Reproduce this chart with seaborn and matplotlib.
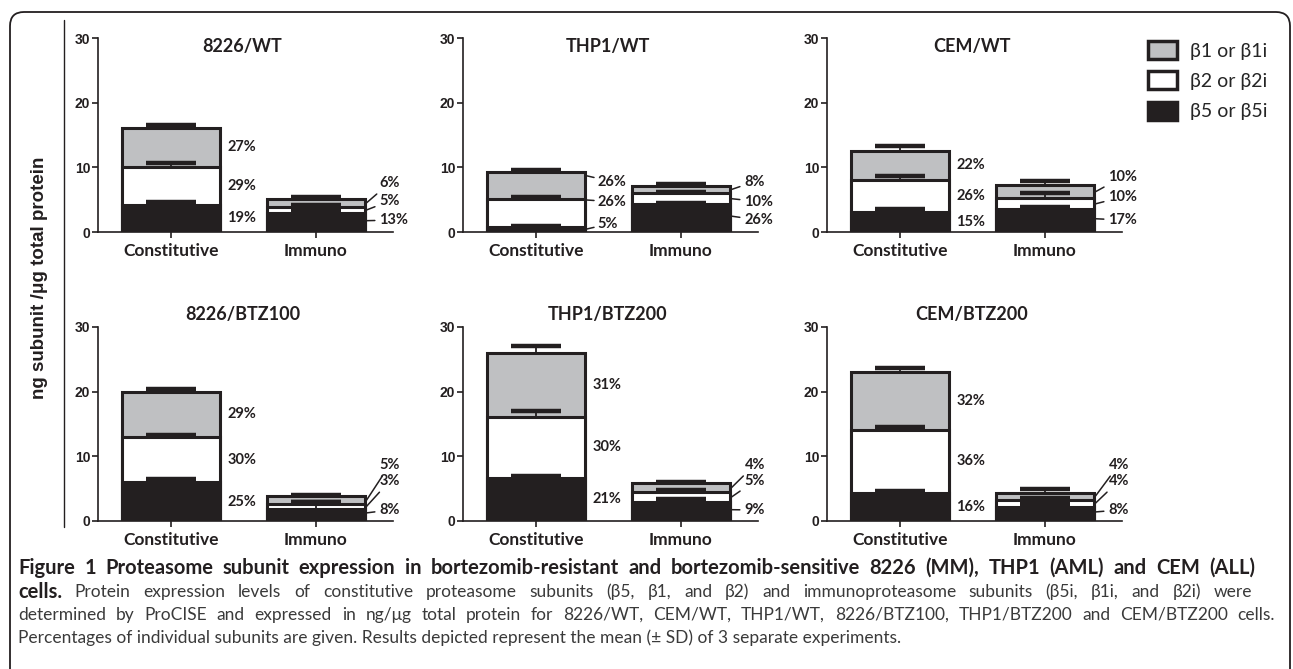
import matplotlib
matplotlib.use("Agg")
import numpy as np
import matplotlib.pyplot as plt
import matplotlib.transforms as mtransforms
from matplotlib.patches import Patch, FancyBboxPatch
from matplotlib.lines import Line2D
import seaborn as sns

# cell lines and proteasome types
panels = ["8226/WT", "THP1/WT", "CEM/WT", "8226/BTZ100", "THP1/BTZ200", "CEM/BTZ200"]
categories = ["Constitutive", "Immuno"]

# ng subunit / ug protein, [constitutive, immuno] per panel
b5 = [[4.2, 2.9], [0.8, 4.3], [3.1, 3.5], [6.0, 1.9], [6.7, 2.9], [4.4, 2.2]]
b2 = [[5.9, 1.0], [4.25, 1.7], [5.0, 1.7], [7.0, 0.7], [9.4, 1.6], [9.7, 1.1]]
b1 = [[6.0, 1.2], [4.25, 1.15], [4.4, 2.05], [7.0, 1.2], [9.9, 1.3], [8.9, 1.1]]

# SD (upper error bar only)
sd5 = [[0.4, 0.3], [0.1, 0.15], [0.45, 0.4], [0.5, 1.0], [0.3, 0.5], [0.3, 0.4]]
sd2 = [[0.5, 0.2], [0.4, 0.2], [0.5, 0.8], [0.3, 0.3], [0.9, 0.3], [0.5, 0.3]]
sd1 = [[0.4, 0.3], [0.3, 0.25], [0.8, 0.6], [0.4, 0.2], [1.0, 0.3], [0.6, 0.5]]

# percentage labels
pct5 = [["19%", "13%"], ["5%", "26%"], ["15%", "17%"], ["25%", "8%"], ["21%", "9%"], ["16%", "8%"]]
pct2 = [["29%", "5%"], ["26%", "10%"], ["26%", "10%"], ["30%", "3%"], ["30%", "5%"], ["36%", "4%"]]
pct1 = [["27%", "6%"], ["26%", "8%"], ["22%", "10%"], ["29%", "5%"], ["31%", "4%"], ["32%", "4%"]]

legend_labels = ["\u03b21 or \u03b21i", "\u03b22 or \u03b22i", "\u03b25 or \u03b25i"]

caption_title = "Figure 1 Proteasome subunit expression in bortezomib-resistant and bortezomib-sensitive 8226 (MM), THP1 (AML) and CEM (ALL)"
caption_lines = [
    "Protein expression levels of constitutive proteasome subunits (\u03b25, \u03b21, and \u03b22) and immunoproteasome subunits (\u03b25i, \u03b21i, and \u03b22i) were",
    "determined by ProCISE and expressed in ng/\u03bcg total protein for 8226/WT, CEM/WT, THP1/WT, 8226/BTZ100, THP1/BTZ200 and CEM/BTZ200 cells.",
    "Percentages of individual subunits are given. Results depicted represent the mean (\u00b1 SD) of 3 separate experiments.",
]

# label placement (layout only)
imm_text_y = [(1.85, 4.8, 7.6), (1.85, 4.7, 7.8), (1.85, 5.45, 8.55),
              (1.7, 6.2, 8.7), (1.7, 6.2, 8.7), (1.7, 6.2, 8.7)]
const_leader = {1: ((1.2, 4.7, 7.8), (0.45, 4.95, 8.7))}

GRAY = "#bfc0c2"
DARK = "#231f20"
BODY = "#3a3a3a"
BAR_W = 0.676

sns.set_theme(style="ticks")
plt.rcParams["font.family"] = ["Lato", "DejaVu Sans"]
plt.rcParams["axes.edgecolor"] = DARK
plt.rcParams["xtick.color"] = DARK
plt.rcParams["ytick.color"] = DARK

W, H = 1293, 669
fig = plt.figure(figsize=(W / 100, H / 100), dpi=100)

ax_left_px = [98, 463, 827]
rows_px = [(38, 232), (327, 521)]
ax_w_px = 295

for i, name in enumerate(panels):
    r, c = divmod(i, 3)
    top, bot = rows_px[r]
    ax = fig.add_axes([ax_left_px[c] / W, 1 - bot / H, ax_w_px / W, (bot - top) / H])

    c5 = np.array(b5[i])
    c2 = c5 + np.array(b2[i])
    c1 = c2 + np.array(b1[i])

    # stacked bars: draw totals first, then cover with lower segments
    for heights, col in [(c1, GRAY), (c2, "white"), (c5, DARK)]:
        sns.barplot(x=categories, y=heights, color=col, saturation=1,
                    edgecolor=DARK, linewidth=2.2, width=BAR_W,
                    errorbar=None, ax=ax)

    for tops, sd in [(c5, sd5[i]), (c2, sd2[i]), (c1, sd1[i])]:
        _, caps, _ = ax.errorbar([0, 1], tops, yerr=[np.zeros(2), sd], fmt="none",
                                 ecolor=DARK, elinewidth=1.3, capsize=18,
                                 capthick=3.2, zorder=5)
        for cap in caps:
            if np.allclose(cap.get_ydata(), tops):
                cap.set_visible(False)

    # percentages, constitutive bar
    xr = BAR_W / 2
    labels_c = [pct5[i][0], pct2[i][0], pct1[i][0]]
    if i in const_leader:
        ty, ay = const_leader[i]
        for lab, t, a in zip(labels_c, ty, ay):
            ax.annotate(lab, xy=(xr + 0.01, a), xytext=(xr + 0.085, t),
                        textcoords="data", va="center", ha="left",
                        fontsize=10.5, fontweight="bold", color=DARK,
                        arrowprops=dict(arrowstyle="-", lw=1.1, color=DARK,
                                        shrinkA=0, shrinkB=0))
    else:
        mids = [c5[0] / 2, (c5[0] + c2[0]) / 2, (c2[0] + c1[0]) / 2]
        for lab, m in zip(labels_c, mids):
            ax.text(xr + 0.05, m, lab, va="center", ha="left",
                    fontsize=10.5, fontweight="bold", color=DARK)

    # percentages, immuno bar
    xr = 1 + BAR_W / 2
    labels_i = [pct5[i][1], pct2[i][1], pct1[i][1]]
    mids = [c5[1] / 2 + 0.3, (c5[1] + c2[1]) / 2, (c2[1] + c1[1]) / 2]
    for lab, t, a in zip(labels_i, imm_text_y[i], mids):
        ax.annotate(lab, xy=(xr + 0.01, a), xytext=(xr + 0.1, t),
                    textcoords="data", va="center", ha="left",
                    fontsize=10.5, fontweight="bold", color=DARK,
                    arrowprops=dict(arrowstyle="-", lw=1.1, color=DARK,
                                    shrinkA=1, shrinkB=0))

    ax.set_xlim(-0.503, 1.531)
    ax.set_ylim(0, 30)
    ax.set_yticks([0, 10, 20, 30])
    ax.set_ylabel("")
    sns.despine(ax=ax)
    for s in ["left", "bottom"]:
        ax.spines[s].set_linewidth(1.2)
    ax.tick_params(axis="y", length=4.5, width=1.2, pad=1, labelsize=10)
    ax.tick_params(axis="x", length=4, width=1.2, pad=4)
    for t in ax.get_yticklabels():
        t.set_fontfamily("Liberation Sans")
        t.set_fontweight("bold")
    for t in ax.get_xticklabels():
        t.set_fontsize(12.5)
        t.set_fontweight("bold")
    ty = 0.954 if r == 0 else 1.062
    ax.text(0.49, ty, name, transform=ax.transAxes, ha="center", va="center",
            fontsize=13, fontweight="bold", color=DARK)

# shared y label and divider
fig.text(40 / W, 1 - 278 / H, "ng subunit /\u03bcg total protein", rotation=90,
         ha="center", va="center", fontsize=13.5, fontweight="bold",
         family=["Liberation Sans", "DejaVu Sans"], color=DARK)
fig.add_artist(Line2D([64 / W, 64 / W], [1 - 20 / H, 1 - 527 / H], color=DARK, lw=1.0))

# legend
handles = [Patch(facecolor=col, edgecolor=DARK, linewidth=2.5) for col in [GRAY, "white", DARK]]
fig.legend(handles, legend_labels, loc="upper left",
           bbox_to_anchor=(1148 / W, 1 - 41 / H), frameon=False,
           handlelength=1.5, handleheight=1.05, handletextpad=0.65,
           labelspacing=0.6, borderpad=0, borderaxespad=0,
           prop={"family": ["Lato", "DejaVu Serif"], "size": 14})


# caption, justified like the journal layout
renderer = fig.canvas.get_renderer()


def justify(words, y_px, x0_px, x1_px):
    # words: list of (text, weight, size, color)
    arts = [fig.text(0, 1 - y_px / H, w, fontweight=wt, fontsize=sz, color=col,
                     va="center", ha="left") for w, wt, sz, col in words]
    widths = [a.get_window_extent(renderer).width for a in arts]
    gap = (x1_px - x0_px - sum(widths)) / (len(arts) - 1)
    x = x0_px
    for a, wd in zip(arts, widths):
        a.set_x(x / W)
        x += wd + gap


cap_x = 18
title_words = [(w, "bold", 14.5, DARK) for w in caption_title.split(" ")]
justify(title_words, 568, cap_x, 1255)
line2 = [("cells.", "bold", 14.5, DARK)] + [(w, "normal", 12.5, BODY) for w in caption_lines[0].split(" ")]
justify(line2, 592, cap_x, 1252)
line3 = [(w, "normal", 12.5, BODY) for w in caption_lines[1].split(" ")]
justify(line3, 615, cap_x, 1275)
fig.text(cap_x / W, 1 - 638 / H, caption_lines[2], fontsize=12.5, va="center", ha="left", color=BODY)

# rounded frame
frame = FancyBboxPatch((10, -30), 1280, H - 12 + 30, boxstyle="round,pad=0,rounding_size=14",
                       transform=mtransforms.IdentityTransform(), fill=False,
                       edgecolor=DARK, linewidth=1.3)
fig.add_artist(frame)

fig.savefig("out.png", dpi=100)
